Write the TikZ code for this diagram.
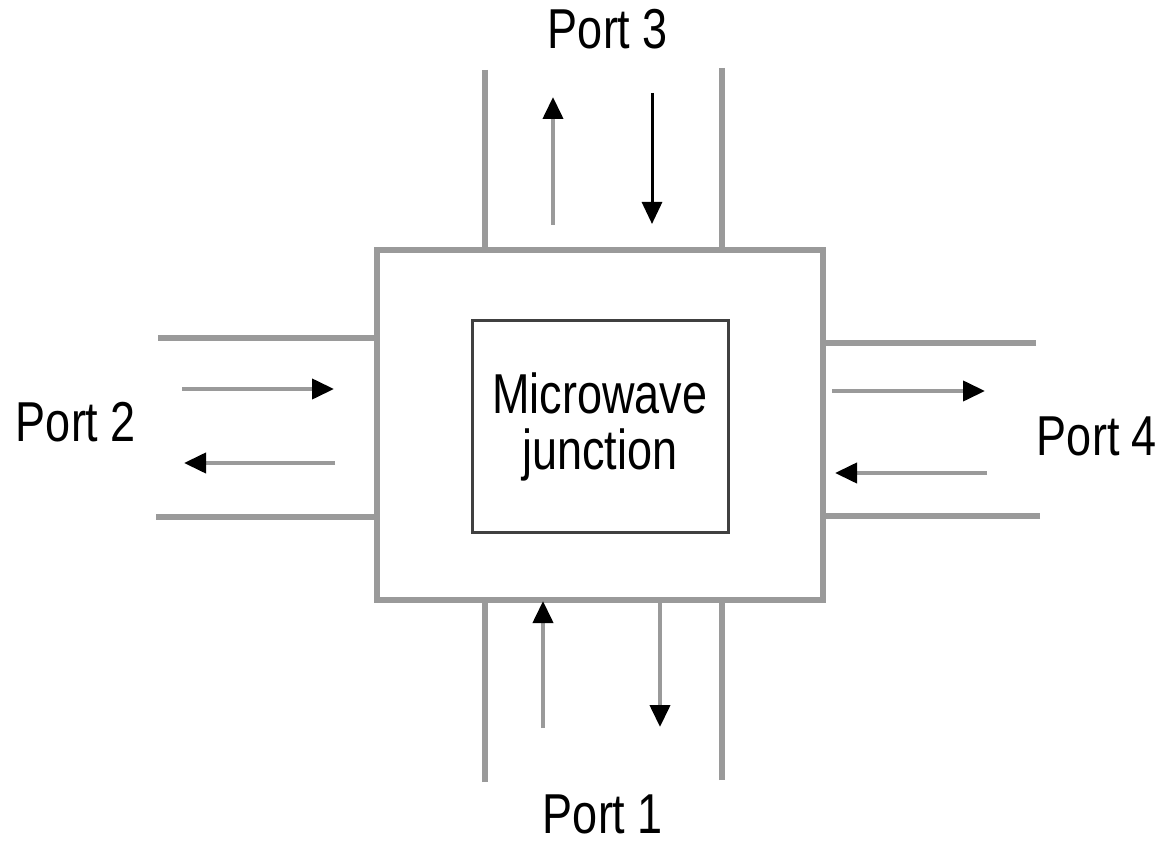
\documentclass[tikz,border=0pt]{standalone}
\usepackage{fontspec}
\setmainfont{Liberation Sans}
\usetikzlibrary{arrows.meta}
\definecolor{wg}{HTML}{9A9A9A}
\newcommand\tx[1]{\scalebox{1}[1.25]{#1}}
\begin{document}
\begin{tikzpicture}[x=1pt,y=-1pt,
  wall/.style={draw=wg,line width=5.5pt},
  flow/.style={draw=wg,line width=4pt,-{Triangle[length=22pt,width=20pt,fill=black,color=black]}},
  lbl/.style={font=\fontsize{45}{50}\selectfont,anchor=base,inner sep=0pt}]
\useasboundingbox (0,0) rectangle (1160,845);
% boxes
\node[wall,rectangle,minimum width=446pt,minimum height=350pt,inner sep=0pt] (outer) at (600,425) {};
\node[draw=black!75,line width=3pt,rectangle,minimum width=256pt,minimum height=212pt,inner sep=0pt] (inner) at (600,426) {};
\node[lbl] (mw) at (600,413) {\tx{Microwave}};
\node[lbl] (jn) at (600,469) {\tx{junction}};
% wall end coordinates
\coordinate (t1) at (485,70);  \coordinate (t1b) at (485,250);
\coordinate (t2) at (722,68);  \coordinate (t2b) at (722,250);
\coordinate (b1) at (485,782); \coordinate (b1b) at (485,600);
\coordinate (b2) at (722,780); \coordinate (b2b) at (722,600);
\coordinate (l1) at (158,338); \coordinate (l1b) at (377,338);
\coordinate (l2) at (156,517); \coordinate (l2b) at (377,517);
\coordinate (r1) at (1036,343); \coordinate (r1b) at (823,343);
\coordinate (r2) at (1040,516); \coordinate (r2b) at (823,516);
\draw[wall] (t1) -- (t1b);
\draw[wall] (t2) -- (t2b);
\draw[wall] (b1) -- (b1b);
\draw[wall] (b2) -- (b2b);
\draw[wall] (l1) -- (l1b);
\draw[wall] (l2) -- (l2b);
\draw[wall] (r1) -- (r1b);
\draw[wall] (r2) -- (r2b);
% arrows
\coordinate (a3s) at (553,225); \coordinate (a3e) at (553,97);
\coordinate (c3s) at (652,93);  \coordinate (c3e) at (652,224);
\coordinate (a1s) at (543,728); \coordinate (a1e) at (543,601);
\coordinate (c1s) at (660,600); \coordinate (c1e) at (660,727);
\coordinate (a2s) at (182,389); \coordinate (a2e) at (334,389);
\coordinate (c2s) at (335,463); \coordinate (c2e) at (184,463);
\coordinate (a4s) at (832,391); \coordinate (a4e) at (985,391);
\coordinate (c4s) at (987,473); \coordinate (c4e) at (835,473);
\draw[flow] (a3s) -- (a3e);
\draw[flow,draw=black,line width=3pt] (c3s) -- (c3e);
\draw[flow] (a1s) -- (a1e);
\draw[flow] (c1s) -- (c1e);
\draw[flow] (a2s) -- (a2e);
\draw[flow] (c2s) -- (c2e);
\draw[flow] (a4s) -- (a4e);
\draw[flow] (c4s) -- (c4e);
% labels
\node[lbl] (p3) at (608,49) {\tx{Port 3}};
\node[lbl] (p1) at (603,833) {\tx{Port 1}};
\node[lbl] (p2) at (76,441) {\tx{Port 2}};
\node[lbl] (p4) at (1097,455) {\tx{Port 4}};
\end{tikzpicture}
\end{document}
